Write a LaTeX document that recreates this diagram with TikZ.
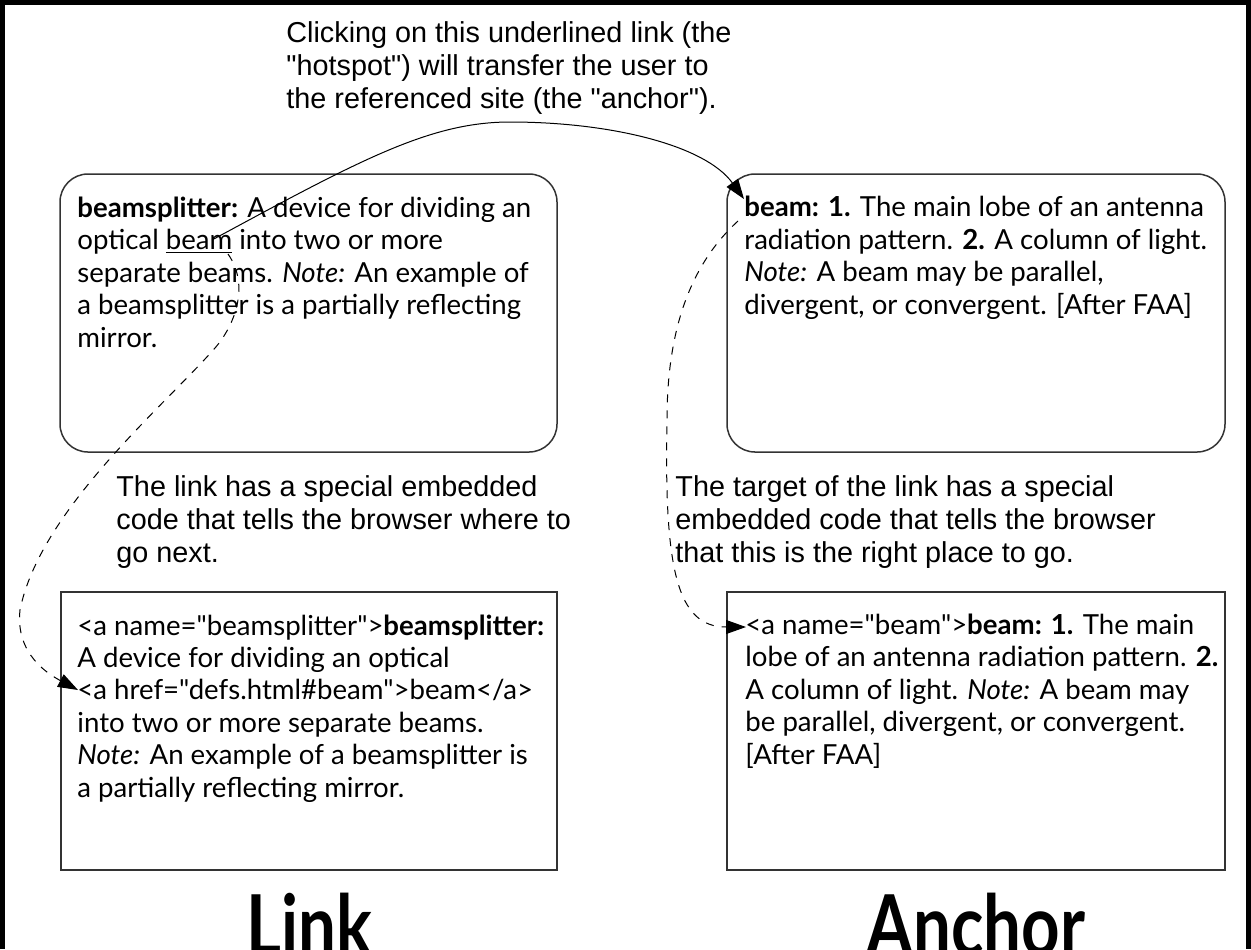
\documentclass[tikz,border=0pt]{standalone}
\usepackage{fontspec}
\setmainfont{Lato}[Ligatures=TeXOff]
\newfontfamily\notefont{Liberation Sans}
\newfontfamily\labelfont[FakeStretch=0.8]{Lato}
\usetikzlibrary{arrows.meta,positioning,calc}

\tikzset{
  defbox/.style={draw=black!80,line width=0.75pt},
  % base west of an aligned node = baseline of its last line
  deftext/.style={anchor=base west,inner sep=0pt,align=left,font=\fontsize{13.8}{16.2}\selectfont},
  note/.style={anchor=base west,inner sep=0pt,align=left,font=\notefont\fontsize{14.4}{16.4}\selectfont},
  biglabel/.style={anchor=base,inner sep=0pt,font=\labelfont\bfseries\fontsize{42}{42}\selectfont},
  hotlink/.style={-{Triangle[length=10pt,width=7pt]},line width=0.5pt},
  codelink/.style={hotlink,dash pattern=on 4pt off 4pt},
}

\begin{document}
\begin{tikzpicture}[x=0.5pt,y=-0.5pt]
    \useasboundingbox (0,0) rectangle (1251,949);
    % open frame
    \draw[line width=2.25pt] (2.5,949) -- (2.5,2.5) -- (1248.5,2.5) -- (1248.5,949);
    % the four boxes
    \draw[defbox,rounded corners=14pt] (60,174) rectangle (557,452);
    \draw[defbox,rounded corners=14pt] (727,174) rectangle (1225,452);
    \draw[defbox] (61,592) rectangle (557,870);
    \draw[defbox] (727,592) rectangle (1225,870);
    % top note
    \node[note] (clicknote) at (286,108) {Clicking on this underlined link (the\\
      "hotspot") will transfer the user to\\
      the referenced site (the "anchor").};
    % definitions as the reader sees them
    \node[deftext] (linkdef) at (77,347) {\textbf{beamsplitter:} A device for dividing an\\
      optical \underline{beam} into two or more\\
      separate beams. \textit{Note:} An example of\\
      a beamsplitter is a partially reflecting\\
      mirror.};
    \node[deftext] (anchordef) at (744,314) {\textbf{beam: 1.} The main lobe of an antenna\\
      radiation pattern. \textbf{2.} A column of light.\\
      \textit{Note:} A beam may be parallel,\\
      divergent, or convergent. {[}After FAA{]}};
    % middle notes
    \node[note] (linknote) at (116,562) {The link has a special embedded\\
      code that tells the browser where to\\
      go next.};
    \node[note] (anchornote) at (675,562) {The target of the link has a special\\
      embedded code that tells the browser\\
      that this is the right place to go.};
    % the same definitions as html source
    \node[deftext] (linkcode) at (77,797) {<a name="beamsplitter">\textbf{beamsplitter:}\\
      A device for dividing an optical\\
      <a href="defs.html\#beam">beam</a>\\
      into two or more separate beams.\\
      \textit{Note:} An example of a beamsplitter is\\
      a partially reflecting mirror.};
    \node[deftext] (anchorcode) at (745,764) {<a name="beam">\textbf{beam: 1.} The main\\
      lobe of an antenna radiation pattern. \textbf{2.}\\
      A column of light. \textit{Note:} A beam may\\
      be parallel, divergent, or convergent.\\
      {[}After FAA{]}};
    % labels
    \node[biglabel] (linklabel) at (309,955) {Link};
    \node[biglabel] (anchorlabel) at (976,955) {Anchor};
    % connectors
    \coordinate (hotspot) at (212,240);
    \coordinate (anchorpt) at (744,199);
    \coordinate (hotsrc) at (228,254);
    \coordinate (hrefpt) at (78,690);
    \coordinate (anchorsrc) at (738,221);
    \coordinate (namept) at (746,627);
    \draw[hotlink] (hotspot) .. controls (360,160) and (430,122) .. (510,122)
      .. controls (610,122) and (705,145) .. (anchorpt);
    \draw[codelink] (hotsrc) .. controls (250,285) and (235,325) .. (215,348)
      .. controls (165,405) and (40,510) .. (20,610)
      .. controls (15,655) and (50,675) .. (hrefpt);
    \draw[codelink] (anchorsrc) .. controls (690,265) and (667,330) .. (667,420)
      .. controls (664,570) and (677,627) .. (namept);
\end{tikzpicture}
\end{document}
